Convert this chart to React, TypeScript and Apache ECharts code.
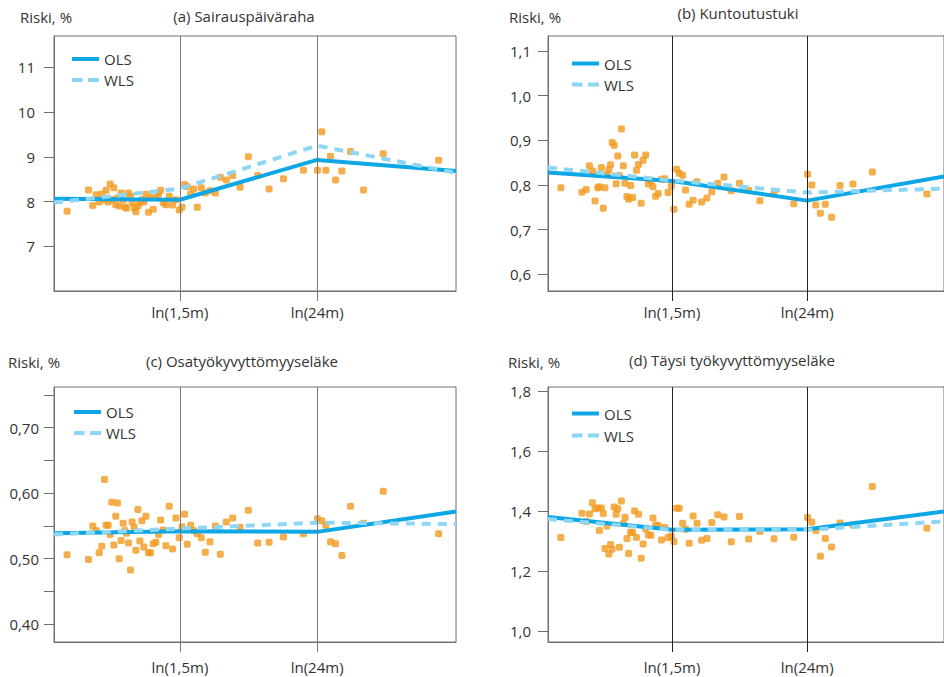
import React, { useEffect, useRef } from "react";
import * as echarts from "echarts";

// x axis in ln(months)
const X_MIN = -2.14;
const X_MAX = 5.985;
const KNOT_VALUES = [0.405, 3.178]; // ln(1.5), ln(24)
const KNOT_LABELS = ["ln(1,5m)", "ln(24m)"];

const X_POINTS = [
  -1.876, -1.444, -1.357, -1.289, -1.228, -1.174, -1.12, -1.087, -1.046, -1.006,
  -0.972, -0.931, -0.891, -0.857, -0.823, -0.783, -0.742, -0.708, -0.675, -0.634,
  -0.594, -0.56, -0.52, -0.486, -0.445, -0.405, -0.364, -0.324, -0.283, -0.229,
  -0.189, -0.135, -0.081, -0.027, 0.014, 0.068, 0.122, 0.189, 0.256, 0.324,
  0.391, 0.445, 0.499, 0.553, 0.621, 0.682, 0.756, 0.837, 0.918, 1.012,
  1.12, 1.221, 1.343, 1.471, 1.62, 1.788, 1.977, 2.207, 2.497, 2.902,
  3.185, 3.273, 3.354, 3.449, 3.55, 3.678, 3.853, 4.116, 4.514, 5.634,
];

const Y_A = [
  7.78, 8.26, 7.91, 8.15, 7.99, 8.17, 8.04, 8.25, 7.99, 8.39,
  8.04, 8.31, 7.93, 8.08, 7.9, 8.19, 8.04, 7.88, 7.85, 8.19,
  8.12, 7.97, 7.86, 7.77, 7.9, 7.97, 8.04, 7.99, 8.16, 7.76,
  8.09, 7.83, 8.09, 8.16, 8.25, 7.97, 7.93, 8.12, 7.92, 8.04,
  7.81, 7.87, 8.38, 8.33, 8.16, 8.28, 7.87, 8.31, 8.19, 8.24,
  8.19, 8.54, 8.48, 8.58, 8.32, 9.0, 8.58, 8.28, 8.51, 8.7,
  8.7, 9.56, 8.7, 9.01, 8.48, 8.68, 9.12, 8.26, 9.07, 8.92,
];
const Y_B = [
  0.794, 0.784, 0.79, 0.843, 0.831, 0.764, 0.794, 0.796, 0.839, 0.748,
  0.794, 0.824, 0.834, 0.845, 0.895, 0.889, 0.803, 0.865, 0.821, 0.925,
  0.843, 0.804, 0.774, 0.768, 0.799, 0.772, 0.867, 0.833, 0.846, 0.759,
  0.855, 0.867, 0.802, 0.81, 0.796, 0.775, 0.781, 0.813, 0.814, 0.783,
  0.797, 0.746, 0.835, 0.826, 0.822, 0.789, 0.757, 0.766, 0.807, 0.762,
  0.771, 0.785, 0.804, 0.818, 0.787, 0.804, 0.788, 0.765, 0.78, 0.758,
  0.824, 0.8, 0.755, 0.737, 0.757, 0.728, 0.799, 0.802, 0.829, 0.78,
];
const Y_C = [
  0.506, 0.499, 0.55, 0.543, 0.509, 0.519, 0.621, 0.551, 0.551, 0.537,
  0.586, 0.521, 0.565, 0.585, 0.5, 0.528, 0.554, 0.543, 0.539, 0.524,
  0.483, 0.556, 0.548, 0.513, 0.575, 0.527, 0.558, 0.518, 0.565, 0.509,
  0.509, 0.523, 0.525, 0.537, 0.559, 0.544, 0.52, 0.58, 0.515, 0.562,
  0.532, 0.549, 0.568, 0.522, 0.551, 0.543, 0.538, 0.532, 0.51, 0.526,
  0.55, 0.507, 0.556, 0.562, 0.548, 0.574, 0.524, 0.525, 0.533, 0.538,
  0.561, 0.558, 0.551, 0.526, 0.523, 0.505, 0.58, 0.554, 0.603, 0.538,
];
const Y_D = [
  1.312, 1.393, 1.366, 1.391, 1.428, 1.408, 1.411, 1.336, 1.411, 1.392,
  1.276, 1.351, 1.257, 1.289, 1.273, 1.414, 1.39, 1.408, 1.28, 1.434,
  1.359, 1.38, 1.309, 1.259, 1.33, 1.329, 1.401, 1.312, 1.39, 1.243,
  1.291, 1.341, 1.321, 1.32, 1.377, 1.354, 1.352, 1.304, 1.346, 1.312,
  1.317, 1.299, 1.41, 1.41, 1.36, 1.34, 1.293, 1.384, 1.36, 1.303,
  1.309, 1.362, 1.388, 1.381, 1.298, 1.382, 1.307, 1.332, 1.308, 1.313,
  1.379, 1.363, 1.336, 1.25, 1.309, 1.281, 1.361, 1.354, 1.482, 1.343,
];

// fitted values at X_MIN, ln(1.5), ln(24), X_MAX
const OLS_A = [8.06, 8.04, 8.93, 8.68];
const WLS_A = [7.98, 8.29, 9.25, 8.64];
const OLS_B = [0.828, 0.809, 0.765, 0.819];
const WLS_B = [0.839, 0.81, 0.783, 0.792];
const OLS_C = [0.539, 0.542, 0.541, 0.572];
const WLS_C = [0.537, 0.546, 0.555, 0.553];
const OLS_D = [1.381, 1.338, 1.34, 1.399];
const WLS_D = [1.374, 1.338, 1.338, 1.366];

const TITLES = [
  "(a) Sairauspäiväraha",
  "(b) Kuntoutustuki",
  "(c) Osatyökyvyttömyyseläke",
  "(d) Täysi työkyvyttömyyseläke",
];
const Y_TICKS_A = [7, 8, 9, 10, 11];
const Y_TICKS_B = [0.6, 0.7, 0.8, 0.9, 1.0, 1.1];
const Y_TICKS_C = [0.4, 0.45, 0.5, 0.55, 0.6, 0.65, 0.7, 0.75];
const Y_LABELS_C = [0.4, 0.5, 0.6, 0.7];
const Y_TICKS_D = [1.0, 1.2, 1.4, 1.6, 1.8];

const FONT = "'Open Sans', 'Noto Sans', sans-serif";
const TEXT = "#333333";
const ORANGE = "#f39a1f";
const BLUE = "#0ea7e6";
const LIGHT = "#8dd6f4";

const ICON_SOLID = "path://M0,0H27V4H0Z";
const ICON_DASH = "path://M0,0H10.5V4H0Z M16,0H27V4H16Z";

const PANELS = [
  {
    title: TITLES[0], ys: Y_A, ols: OLS_A, wls: WLS_A,
    yMin: 6.0, yMax: 11.7, ticks: Y_TICKS_A, labels: Y_TICKS_A, dec: 0,
    left: 54, top: 36, frame: "#707070", inner: "#7a7a7a",
    yMargin: 19, xMargin: 13,
    riski: [20, 17], titlePos: [244, 16], legend: [72, 51.5, 6],
  },
  {
    title: TITLES[1], ys: Y_B, ols: OLS_B, wls: WLS_B,
    yMin: 0.563, yMax: 1.133, ticks: Y_TICKS_B, labels: Y_TICKS_B, dec: 1,
    left: 548, top: 36, frame: "#707070", inner: "#222222",
    yMargin: 17, xMargin: 13,
    riski: [509, 17], titlePos: [738, 13], legend: [572, 56, 6],
  },
  {
    title: TITLES[2], ys: Y_C, ols: OLS_C, wls: WLS_C,
    yMin: 0.373, yMax: 0.762, ticks: Y_TICKS_C, labels: Y_LABELS_C, dec: 2,
    left: 54, top: 387, frame: "#707070", inner: "#7a7a7a",
    yMargin: 15, xMargin: 17,
    riski: [8, 362], titlePos: [242, 361], legend: [74, 404.5, 6],
  },
  {
    title: TITLES[3], ys: Y_D, ols: OLS_D, wls: WLS_D,
    yMin: 0.964, yMax: 1.814, ticks: Y_TICKS_D, labels: Y_TICKS_D, dec: 1,
    left: 548, top: 387, frame: "#707070", inner: "#222222",
    yMargin: 17, xMargin: 17,
    riski: [508, 362], titlePos: [732, 360], legend: [572, 406, 7],
  },
];

function lineData(vals: number[]) {
  const xs = [X_MIN, KNOT_VALUES[0], KNOT_VALUES[1], X_MAX];
  return xs.map((x, i) => [x, vals[i]]);
}

export default function App() {
  const ref = useRef<HTMLDivElement>(null);
  useEffect(() => {
    if (!ref.current) return;
    const chart = echarts.init(ref.current, undefined, { renderer: "svg" });
    const grid: any[] = [];
    const xAxis: any[] = [];
    const yAxis: any[] = [];
    const series: any[] = [];
    const legend: any[] = [];
    const graphic: any[] = [];

    PANELS.forEach((p, i) => {
      grid.push({
        left: p.left, top: p.top, width: 402, height: 255,
        show: true, borderColor: p.frame, borderWidth: 1,
        backgroundColor: "transparent",
      });
      xAxis.push({
        type: "value", gridIndex: i, min: X_MIN, max: X_MAX,
        splitLine: { show: false },
        axisLine: { show: true, onZero: false, lineStyle: { color: p.frame, width: 1 } },
        axisTick: { show: true, customValues: KNOT_VALUES, length: 10, lineStyle: { color: p.inner, width: 1 } },
        axisLabel: {
          customValues: KNOT_VALUES, margin: p.xMargin, fontSize: 15, color: TEXT, fontFamily: FONT,
          formatter: (v: number) => {
            let best = 0;
            KNOT_VALUES.forEach((k, j) => { if (Math.abs(k - v) < Math.abs(KNOT_VALUES[best] - v)) best = j; });
            return KNOT_LABELS[best];
          },
        },
      });
      yAxis.push({
        type: "value", gridIndex: i, min: p.yMin, max: p.yMax,
        splitLine: { show: false },
        axisLine: { show: true, onZero: false, lineStyle: { color: p.frame, width: 1 } },
        axisTick: { show: true, customValues: p.ticks, length: 10, lineStyle: { color: p.frame, width: 1 } },
        axisLabel: {
          customValues: p.labels, margin: p.yMargin, fontSize: 15, color: TEXT, fontFamily: FONT,
          formatter: (v: number) => Number(v).toFixed(p.dec).replace(".", ","),
        },
      });
      series.push({
        type: "line", name: "OLS", xAxisIndex: i, yAxisIndex: i,
        data: lineData(p.ols), symbol: "none", showSymbol: false,
        lineStyle: { color: BLUE, width: 4 }, itemStyle: { color: BLUE },
        silent: true,
        markLine: {
          silent: true, symbol: ["none", "none"], label: { show: false },
          lineStyle: { color: p.inner, width: 1, type: "solid" },
          emphasis: { disabled: true },
          data: KNOT_VALUES.map((v) => ({ xAxis: v })),
        },
      });
      series.push({
        type: "line", name: "WLS", xAxisIndex: i, yAxisIndex: i,
        data: lineData(p.wls), symbol: "none", showSymbol: false,
        lineStyle: { color: LIGHT, width: 4, type: [9, 7] }, itemStyle: { color: LIGHT },
        silent: true,
      });
      series.push({
        type: "scatter", name: "points", xAxisIndex: i, yAxisIndex: i,
        data: X_POINTS.map((x, j) => [x, p.ys[j]]),
        symbol: "roundRect", symbolSize: 7,
        itemStyle: { color: ORANGE }, silent: true,
      });
      legend.push({
        data: [
          { name: "OLS", icon: ICON_SOLID, itemStyle: { color: BLUE, borderWidth: 0 } },
          { name: "WLS", icon: ICON_DASH, itemStyle: { color: LIGHT, borderWidth: 0 } },
        ],
        orient: "vertical",
        left: p.legend[0], top: p.legend[1], itemGap: p.legend[2],
        itemWidth: 27, itemHeight: 15, padding: 0, selectedMode: false,
        textStyle: { fontSize: 15, color: TEXT, fontFamily: FONT },
      });
      graphic.push({
        type: "text", x: p.riski[0], y: p.riski[1],
        style: { text: "Riski, %", fill: TEXT, font: `15px ${FONT}`, align: "left", textAlign: "left", verticalAlign: "middle", textVerticalAlign: "middle" },
      });
      graphic.push({
        type: "text", x: p.titlePos[0], y: p.titlePos[1],
        style: { text: p.title, fill: TEXT, font: `15px ${FONT}`, align: "center", textAlign: "center", verticalAlign: "middle", textVerticalAlign: "middle" },
      });
    });

    chart.setOption({
      animation: false,
      backgroundColor: "#ffffff",
      grid, xAxis, yAxis, series, legend, graphic,
    });
    return () => chart.dispose();
  }, []);

  return (
    <div
      ref={ref}
      style={{ position: "fixed", left: 0, top: 0, width: 944, height: 677, background: "#fff" }}
    />
  );
}
